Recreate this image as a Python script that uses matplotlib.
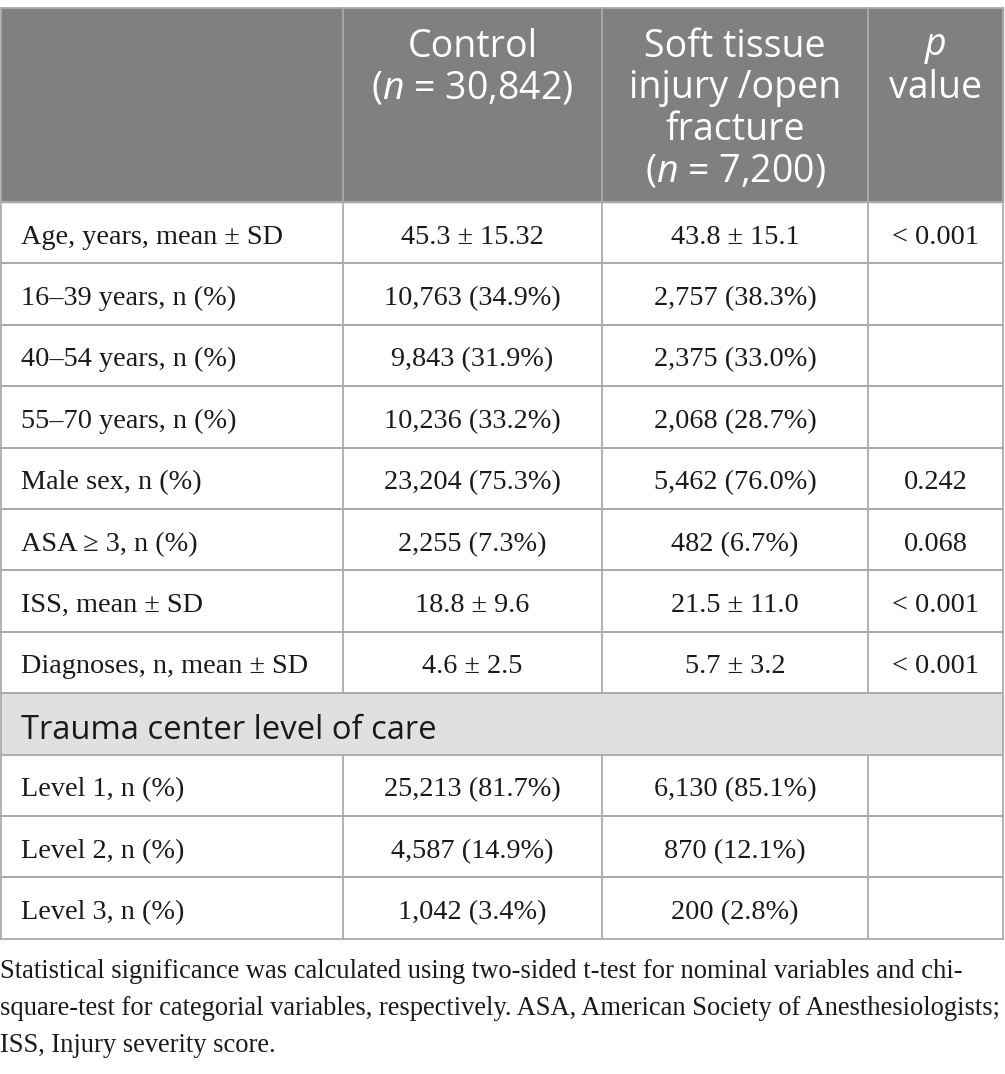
import matplotlib.pyplot as plt
from matplotlib.patches import Rectangle

plt.rcParams['mathtext.fontset'] = 'custom'
plt.rcParams['mathtext.rm'] = 'Open Sans'
plt.rcParams['mathtext.it'] = 'Open Sans:italic'

# table content
header = ['', 'Control\n($\\it{n}$ = 30,842)', 'Soft tissue\ninjury /open\nfracture\n($\\it{n}$ = 7,200)',
          '$\\it{p}$\nvalue']
labels_top = ['Age, years, mean ± SD', '16–39 years, n (%)', '40–54 years, n (%)', '55–70 years, n (%)',
              'Male sex, n (%)', 'ASA ≥ 3, n (%)', 'ISS, mean ± SD', 'Diagnoses, n, mean ± SD']
control_top = ['45.3 ± 15.32', '10,763 (34.9%)', '9,843 (31.9%)', '10,236 (33.2%)',
               '23,204 (75.3%)', '2,255 (7.3%)', '18.8 ± 9.6', '4.6 ± 2.5']
injury_top = ['43.8 ± 15.1', '2,757 (38.3%)', '2,375 (33.0%)', '2,068 (28.7%)',
              '5,462 (76.0%)', '482 (6.7%)', '21.5 ± 11.0', '5.7 ± 3.2']
p_top = ['< 0.001', '', '', '', '0.242', '0.068', '< 0.001', '< 0.001']

section = 'Trauma center level of care'
labels_bot = ['Level 1, n (%)', 'Level 2, n (%)', 'Level 3, n (%)']
control_bot = ['25,213 (81.7%)', '4,587 (14.9%)', '1,042 (3.4%)']
injury_bot = ['6,130 (85.1%)', '870 (12.1%)', '200 (2.8%)']
p_bot = ['', '', '']

footnote = ['Statistical significance was calculated using two-sided t-test for nominal variables and chi-',
            'square-test for categorial variables, respectively. ASA, American Society of Anesthesiologists;',
            'ISS, Injury severity score.']

W, H = 1005, 1074
fig = plt.figure(figsize=(W / 100, H / 100), dpi=100)
ax = fig.add_axes([0, 0, 1, 1])
ax.set_xlim(0, W)
ax.set_ylim(H, 0)
ax.axis('off')

cols = [1, 343, 602, 868, 1003]
top, head_bot = 8, 202
row_h = 61.4
grid = '#ababab'
lw = 1.3
serif = 'Liberation Serif'
sans = 'Open Sans'
body_fs = 20.3
txt = '#1a1a1a'

# header block
ax.add_patch(Rectangle((cols[0], top), cols[-1] - cols[0], head_bot - top, color='#7f807f', zorder=0))
for i in range(1, 4):
    cx = (cols[i] + cols[i + 1]) / 2
    ax.text(cx, 28, header[i], ha='center', va='top', color='white', fontsize=27,
            family=sans, linespacing=1.12)

y = head_bot
rows_y = []
for i in range(len(labels_top)):
    rows_y.append(y)
    y += row_h
sec_y = y
y += row_h
rows_y2 = []
for i in range(len(labels_bot)):
    rows_y2.append(y)
    y += row_h
bottom = y

ax.add_patch(Rectangle((cols[0], sec_y), cols[-1] - cols[0], row_h, color='#e1e0e1', zorder=0))
ax.text(21, sec_y + row_h / 2 + 15, section, ha='left', va='baseline', fontsize=23.6, family=sans, color=txt)


def draw_rows(ys, labels, c1, c2, p):
    for yy, a, b, c, d in zip(ys, labels, c1, c2, p):
        yc = yy + row_h / 2 + 11
        ax.text(21, yc, a, ha='left', va='baseline', fontsize=body_fs, family=serif, color=txt)
        ax.text((cols[1] + cols[2]) / 2, yc, b, ha='center', va='baseline', fontsize=body_fs, family=serif, color=txt)
        ax.text((cols[2] + cols[3]) / 2, yc, c, ha='center', va='baseline', fontsize=body_fs, family=serif, color=txt)
        ax.text((cols[3] + cols[4]) / 2, yc, d, ha='center', va='baseline', fontsize=body_fs, family=serif, color=txt)
        for xv in cols:
            ax.plot([xv, xv], [yy, yy + row_h], color=grid, lw=lw)
        ax.plot([cols[0], cols[-1]], [yy, yy], color=grid, lw=lw)
        ax.plot([cols[0], cols[-1]], [yy + row_h, yy + row_h], color=grid, lw=lw)


draw_rows(rows_y, labels_top, control_top, injury_top, p_top)
draw_rows(rows_y2, labels_bot, control_bot, injury_bot, p_bot)

# outer/header lines
for xv in cols:
    ax.plot([xv, xv], [top, head_bot], color=grid, lw=lw)
for xv in [cols[0], cols[-1]]:
    ax.plot([xv, xv], [sec_y, sec_y + row_h], color=grid, lw=lw)
ax.plot([cols[0], cols[-1]], [top, top], color=grid, lw=lw)
ax.plot([cols[0], cols[-1]], [head_bot, head_bot], color=grid, lw=lw)
ax.plot([cols[0], cols[-1]], [sec_y, sec_y], color=grid, lw=lw)

for k, line in enumerate(footnote):
    ax.text(0, bottom + 39 + k * 37.3, line, ha='left', va='baseline', fontsize=19.1,
            family=serif, color=txt)

fig.savefig('out.png', dpi=100)
